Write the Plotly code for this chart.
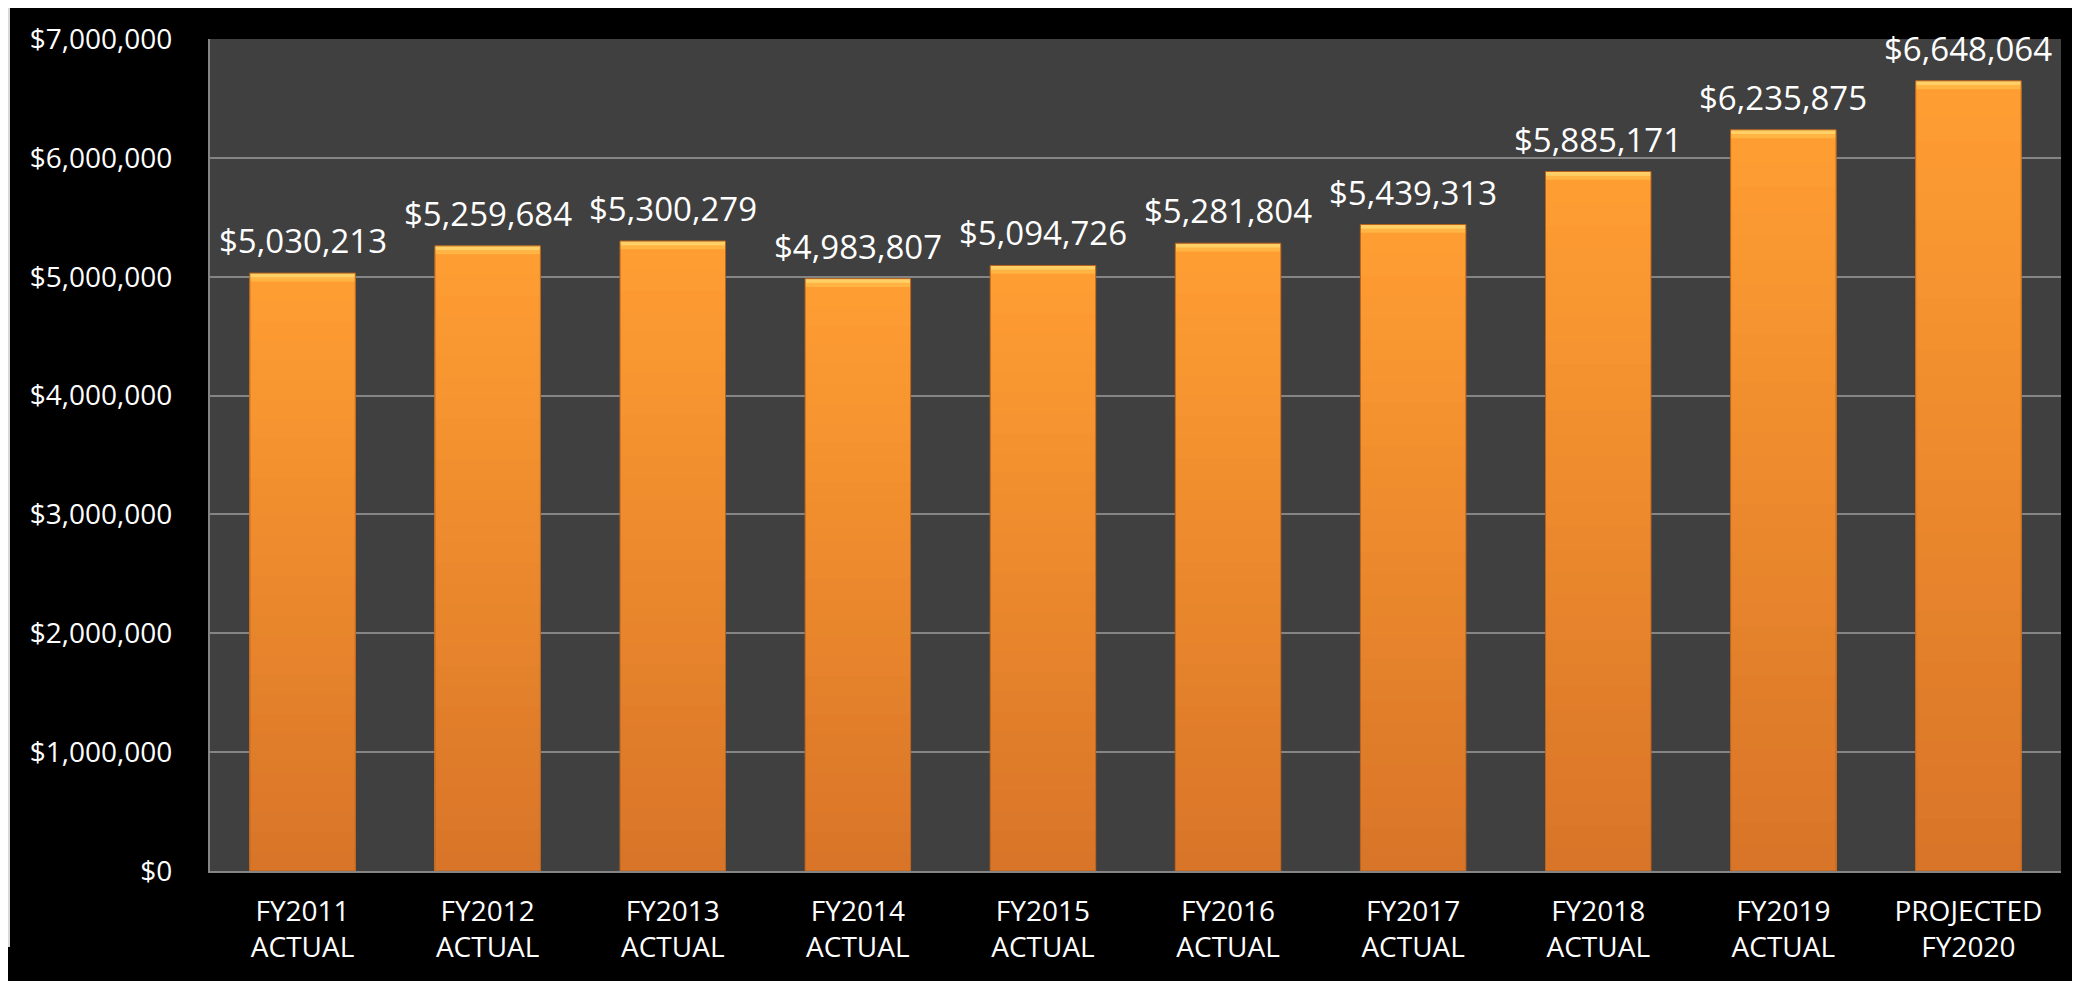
import plotly.graph_objects as go


PAGE_BG = "#000000"
PLOT_BG = "#404040"
FRAME_GRAY = "#d9d9d9"
GRID_COLOR = "#858585"
WHITE_TEXT = "#ffffff"
FONT = "Open Sans, Noto Sans, sans-serif"

CATEGORIES = [
    "FY2011<br>ACTUAL", "FY2012<br>ACTUAL", "FY2013<br>ACTUAL", "FY2014<br>ACTUAL",
    "FY2015<br>ACTUAL", "FY2016<br>ACTUAL", "FY2017<br>ACTUAL", "FY2018<br>ACTUAL",
    "FY2019<br>ACTUAL", "PROJECTED<br>FY2020",
]
VALUES = [5030213, 5259684, 5300279, 4983807, 5094726,
          5281804, 5439313, 5885171, 6235875, 6648064]

Y_TICKS = [0, 1000000, 2000000, 3000000, 4000000, 5000000, 6000000, 7000000]
Y_TICK_TEXT = ["${:,}".format(t) for t in Y_TICKS]

# bar shading: dark orange at the foot, bright orange at the top, pale bevel cap
BOTTOM_RGB = (216, 116, 40)
TOP_RGB = (255, 158, 50)
BEVEL_TOP = "#ffd066"
BEVEL_LOW = "#ffb444"
N_SLICES = 30
BEVEL = 70000
BAR_WIDTH = 0.57


def mix(a, b, t):
    return "rgb(%d,%d,%d)" % tuple(round(a[i] + (b[i] - a[i]) * t) for i in range(3))


fig = go.Figure()

# nested bars from zero, lightest (tallest) first, so no seams show
fig.add_trace(go.Bar(
    x=CATEGORIES, y=VALUES, width=BAR_WIDTH,
    marker=dict(color=BEVEL_TOP, line=dict(width=0)),
    hoverinfo="skip", showlegend=False,
))
fig.add_trace(go.Bar(
    x=CATEGORIES, y=[v - BEVEL / 2 for v in VALUES], width=BAR_WIDTH,
    marker=dict(color=BEVEL_LOW, line=dict(width=0)),
    hoverinfo="skip", showlegend=False,
))
for i in range(N_SLICES, 0, -1):
    frac = i / N_SLICES
    fig.add_trace(go.Bar(
        x=CATEGORIES, y=[(v - BEVEL) * frac for v in VALUES], width=BAR_WIDTH,
        marker=dict(color=mix(BOTTOM_RGB, TOP_RGB, (i - 0.5) / N_SLICES), line=dict(width=0)),
        hoverinfo="skip", showlegend=False,
    ))

# outline
fig.add_trace(go.Bar(
    x=CATEGORIES, y=VALUES, width=BAR_WIDTH,
    marker=dict(color="rgba(0,0,0,0)", line=dict(color="#b8621c", width=1)),
    hovertemplate="%{x}: $%{y:,.0f}<extra></extra>", showlegend=False,
))

for cat, v in zip(CATEGORIES, VALUES):
    fig.add_annotation(
        x=cat, y=v, text="${:,}".format(v), showarrow=False,
        yanchor="bottom", yshift=8,
        font=dict(family=FONT, size=33, color=WHITE_TEXT),
    )

# light frame strip on the left, white corner below it
fig.add_shape(type="rect", xref="paper", yref="paper",
              x0=-0.2, x1=-0.10805, y0=-0.0913, y1=1.1,
              fillcolor=FRAME_GRAY, line=dict(width=0))
fig.add_shape(type="rect", xref="paper", yref="paper",
              x0=-0.2, x1=-0.1092, y0=-0.2, y1=-0.0913,
              fillcolor="#ffffff", line=dict(width=0))

# the page body adds an 8px offset, so the figure is 8px smaller
fig.update_layout(
    width=2072, height=973,
    barmode="overlay",
    paper_bgcolor=PAGE_BG,
    plot_bgcolor=PLOT_BG,
    font=dict(family=FONT, color=WHITE_TEXT, size=28),
    margin=dict(l=202, r=19, t=31, b=110),
    showlegend=False,
    xaxis=dict(
        type="category",
        showgrid=False, automargin=False,
        showline=True, linecolor=GRID_COLOR, linewidth=2,
        ticks="", ticklabelstandoff=14,
        tickfont=dict(family=FONT, size=28, color=WHITE_TEXT),
    ),
    yaxis=dict(
        range=[0, 7000000], automargin=False,
        tickvals=Y_TICKS, ticktext=Y_TICK_TEXT,
        showgrid=True, gridcolor=GRID_COLOR, gridwidth=1.5,
        zeroline=False,
        showline=True, linecolor=GRID_COLOR, linewidth=2,
        ticks="", ticklabelstandoff=30,
        tickfont=dict(family=FONT, size=28, color=WHITE_TEXT),
    ),
)

fig.write_html("out.html")
